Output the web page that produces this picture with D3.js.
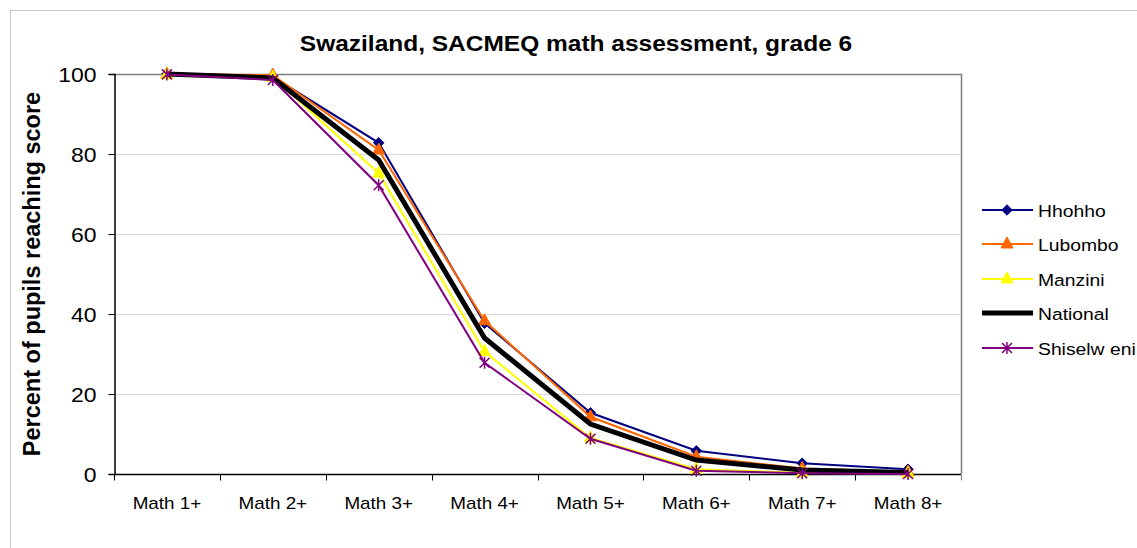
<!DOCTYPE html>
<html>
<head>
<meta charset="utf-8">
<script src="https://cdn.jsdelivr.net/npm/d3@7"></script>
<style>
  body { margin: 0; background: #fff; }
  text { font-family: Arial, "Liberation Sans", sans-serif; fill: #000; }
</style>
</head>
<body>
<script>
// chart data
var categories = ["Math 1+", "Math 2+", "Math 3+", "Math 4+", "Math 5+", "Math 6+", "Math 7+", "Math 8+"];
var hhohho     = [100, 99.3, 82.8, 37.7, 15.3, 5.8, 2.7, 1.2];
var lubombo    = [100, 99.7, 81.0, 38.3, 14.3, 4.3, 1.4, 0.5];
var manzini    = [99.8, 99.2, 75.2, 30.6, 9.0, 1.2, 0.3, 0.1];
var national   = [100, 99.0, 78.5, 34.0, 12.5, 3.5, 1.0, 0.4];
var shiselweni = [99.9, 98.5, 72.2, 27.8, 8.8, 0.8, 0.2, 0.0];
var yTicks     = [0, 20, 40, 60, 80, 100];

var series = [
  {name: "Hhohho", values: hhohho, color: "#000080", width: 2, marker: "diamond"},
  {name: "Lubombo", values: lubombo, color: "#FF6600", width: 2, marker: "triangle"},
  {name: "Manzini", values: manzini, color: "#FFFF00", width: 2, marker: "triangle"},
  {name: "National", values: national, color: "#000000", width: 5, marker: null},
  {name: "Shiselw eni", values: shiselweni, color: "#800080", width: 2, marker: "star"}
];

var W = 1137, H = 548;
var plot = {left: 114, top: 74, right: 961, bottom: 474};
var stretch = 1.15; // text in the original is a bit wide

var svg = d3.select("body").append("svg")
  .attr("width", W)
  .attr("height", H);

// outer chart border (only left/top visible in frame)
svg.append("path")
  .attr("d", "M10.5,548 L10.5,10.5 L1137,10.5")
  .attr("fill", "none")
  .attr("stroke", "#c8c8c8")
  .attr("stroke-width", 1);

var x = d3.scaleBand().domain(categories).range([plot.left, plot.right]);
var y = d3.scaleLinear().domain([0, 100]).range([plot.bottom, plot.top]);

// gridlines
svg.append("g").selectAll("line")
  .data(yTicks.filter(d => d > 0 && d < 100))
  .enter().append("line")
  .attr("x1", plot.left).attr("x2", plot.right)
  .attr("y1", d => y(d) + 0.5).attr("y2", d => y(d) + 0.5)
  .attr("stroke", "#d9d9d9")
  .attr("stroke-width", 1);

// plot area top & right border
svg.append("path")
  .attr("d", "M" + plot.left + "," + (plot.top + 0.5) + " L" + (plot.right + 0.5) + "," + (plot.top + 0.5) + " L" + (plot.right + 0.5) + "," + plot.bottom)
  .attr("fill", "none")
  .attr("stroke", "#808080")
  .attr("stroke-width", 1.5);

// y axis
var yAxis = d3.axisLeft(y).tickValues(yTicks).tickSize(6);
var gy = svg.append("g")
  .attr("transform", "translate(" + (plot.left + 0.5) + ",0)")
  .call(yAxis);
gy.select(".domain").attr("stroke", "#000").attr("stroke-width", 1.5);
gy.selectAll(".tick line").attr("stroke", "#000");
gy.selectAll(".tick text")
  .attr("x", 0)
  .attr("dy", "0.36em")
  .attr("transform", "translate(-18,0) scale(" + stretch + ",1)")
  .style("font-size", "20px")
  .attr("fill", "#000");

// x axis: ticks at category boundaries
var gx = svg.append("g")
  .attr("transform", "translate(0," + (plot.bottom + 0.5) + ")");
gx.append("line")
  .attr("x1", plot.left).attr("x2", plot.right)
  .attr("stroke", "#000").attr("stroke-width", 1.5);
var bounds = categories.map(c => x(c)).concat([plot.right]);
gx.selectAll(".xt").data(bounds).enter().append("line")
  .attr("class", "xt")
  .attr("x1", d => Math.round(d) + 0.5).attr("x2", d => Math.round(d) + 0.5)
  .attr("y1", 0).attr("y2", 6)
  .attr("stroke", d => d === plot.right ? "#808080" : "#000");
gx.selectAll(".xl").data(categories).enter().append("text")
  .attr("class", "xl")
  .attr("transform", d => "translate(" + (x(d) + x.bandwidth() / 2) + ",34) scale(" + stretch + ",1)")
  .attr("text-anchor", "middle")
  .style("font-size", "16.4px")
  .text(d => d);

// title
svg.append("text")
  .attr("transform", "translate(576,51) scale(" + stretch + ",1)")
  .attr("text-anchor", "middle")
  .style("font-size", "21.3px")
  .style("font-weight", "bold")
  .text("Swaziland, SACMEQ math assessment, grade 6");

// y label
svg.append("text")
  .attr("transform", "translate(40," + ((plot.top + plot.bottom) / 2) + ") rotate(-90)")
  .attr("text-anchor", "middle")
  .style("font-size", "23.5px")
  .style("font-weight", "bold")
  .text("Percent of pupils reaching score");

function drawMarker(g, type, color) {
  if (type === "diamond") {
    g.append("path")
      .attr("d", d3.symbol().type(d3.symbolDiamond2).size(70)())
      .attr("fill", color).attr("stroke", color).attr("stroke-width", 1);
  } else if (type === "triangle") {
    g.append("path")
      .attr("d", "M0,-7 L6,4 L-6,4 Z")
      .attr("fill", color).attr("stroke", color).attr("stroke-width", 1);
  } else if (type === "star") {
    g.append("path")
      .attr("d", "M-5,-5 L5,5 M-5,5 L5,-5 M0,-6 L0,6")
      .attr("fill", "none").attr("stroke", color).attr("stroke-width", 1.5);
  }
}

var line = d3.line()
  .x((d, i) => x(categories[i]) + x.bandwidth() / 2)
  .y(d => y(d));

series.forEach(function(s) {
  var g = svg.append("g");
  g.append("path")
    .attr("d", line(s.values))
    .attr("fill", "none")
    .attr("stroke", s.color)
    .attr("stroke-width", s.width)
    .attr("stroke-linejoin", "miter");
  if (s.marker) {
    s.values.forEach(function(v, i) {
      var m = g.append("g")
        .attr("transform", "translate(" + (x(categories[i]) + x.bandwidth() / 2) + "," + y(v) + ")");
      drawMarker(m, s.marker, s.color);
    });
  }
});

// legend
var legendY = [210, 244, 279, 313, 348];
var lg = svg.append("g");
series.forEach(function(s, i) {
  var row = lg.append("g").attr("transform", "translate(0," + legendY[i] + ")");
  row.append("line")
    .attr("x1", 982).attr("x2", 1033)
    .attr("stroke", s.color)
    .attr("stroke-width", s.width);
  if (s.marker) {
    drawMarker(row.append("g").attr("transform", "translate(1007,0)"), s.marker, s.color);
  }
  row.append("text")
    .attr("transform", "translate(1038,6.5) scale(" + stretch + ",1)")
    .style("font-size", "16.8px")
    .text(s.name);
});
</script>
</body>
</html>
